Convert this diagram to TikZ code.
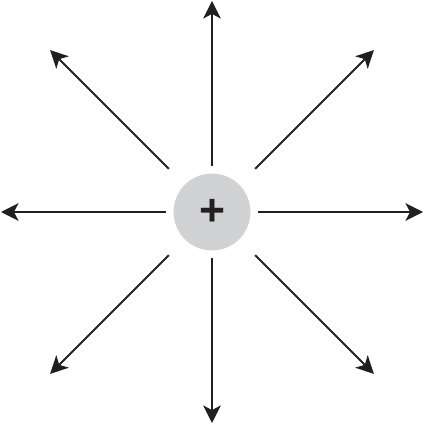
\documentclass[tikz,border=0pt]{standalone}
\usepackage{tikz}
\usepackage{fontspec}
\setsansfont{Liberation Sans}
\usetikzlibrary{arrows.meta}
\definecolor{inkgray}{HTML}{231F20}
\definecolor{chargegray}{HTML}{D1D2D4}

\begin{document}
\begin{tikzpicture}[
                x=0.03cm, y=0.03cm,
                charge/.style={circle, fill=chargegray, minimum size=77*0.03cm, inner sep=0pt, text=inkgray, font=\fontsize{38}{38}\selectfont\sffamily\bfseries},
                arrow/.style={-{Stealth[length=15pt, width=15pt, inset=4pt]}, line width=1.6pt, draw=inkgray}
            ]
                \useasboundingbox (-212,-216) rectangle (215,212);

                % Point charge
                \node[charge] (q) at (0, 0) {+};

                % Field lines, axis directions
                \foreach \a in {0, 90, 180, 270} {
                    \coordinate (s\a) at (\a:46);
                    \coordinate (e\a) at (\a:211);
                    \draw[arrow] (s\a) -- (e\a);
                }

                % Field lines, diagonal directions
                \foreach \a in {45, 135, 225, 315} {
                    \coordinate (s\a) at (\a:61);
                    \coordinate (e\a) at (\a:229);
                    \draw[arrow] (s\a) -- (e\a);
                }
            \end{tikzpicture}
\end{document}
